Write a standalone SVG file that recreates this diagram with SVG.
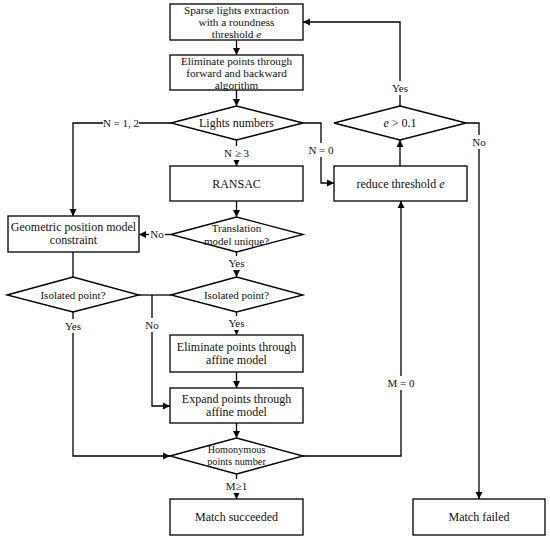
<svg xmlns="http://www.w3.org/2000/svg" width="550" height="540" viewBox="0 0 550 540">
<defs>
<marker id="ah" markerWidth="8" markerHeight="8" refX="7" refY="4" orient="auto" markerUnits="userSpaceOnUse"><path d="M0,0.5 L7,4 L0,7.5 Z" fill="#000"/></marker>
<style>
.b{fill:#fff;stroke:#000;stroke-width:1.3}
.t{font-family:"Liberation Serif","Times New Roman",serif;font-size:12px;fill:#111;text-anchor:middle}
.m{font-family:"Liberation Serif","Times New Roman",serif;font-size:11.2px;fill:#111;text-anchor:middle}
.d{font-family:"Liberation Serif","Times New Roman",serif;font-size:11px;fill:#111;text-anchor:middle}
.s{font-family:"Liberation Serif","Times New Roman",serif;font-size:10.2px;fill:#111;text-anchor:middle}
.l{font-family:"Liberation Serif","Times New Roman",serif;font-size:11px;fill:#111;text-anchor:middle}
.c{fill:none;stroke:#000;stroke-width:1.3}
.w{fill:#fff}
</style>
</defs>
<rect width="550" height="540" fill="#fff"/>
<g id="connectors">
<path class="c" d="M236.5,40 V55" marker-end="url(#ah)"/>
<path class="c" d="M236.5,90 V106" marker-end="url(#ah)"/>
<path class="c" d="M236.5,140 V166" marker-end="url(#ah)"/>
<path class="c" d="M171,123 H73 V216" marker-end="url(#ah)"/>
<path class="c" d="M303,123 H321 V183 H334" marker-end="url(#ah)"/>
<path class="c" d="M236.5,201 V217" marker-end="url(#ah)"/>
<path class="c" d="M171,234.5 H139" marker-end="url(#ah)"/>
<path class="c" d="M73,252 V277"/>
<path class="c" d="M236.5,252 V277" marker-end="url(#ah)"/>
<path class="c" d="M139,295 H171"/>
<path class="c" d="M152,295 V406 H170" marker-end="url(#ah)"/>
<path class="c" d="M73,312 V456 H170" marker-end="url(#ah)"/>
<path class="c" d="M236.5,312 V335" marker-end="url(#ah)"/>
<path class="c" d="M236.5,372 V388" marker-end="url(#ah)"/>
<path class="c" d="M236.5,423 V438" marker-end="url(#ah)"/>
<path class="c" d="M236.5,474 V499" marker-end="url(#ah)"/>
<path class="c" d="M303,456 H401 V201" marker-end="url(#ah)"/>
<path class="c" d="M400,166 V140" marker-end="url(#ah)"/>
<path class="c" d="M400,106 V22 H303" marker-end="url(#ah)"/>
<path class="c" d="M466,123 H479 V499" marker-end="url(#ah)"/>
<rect class="w" x="103" y="116" width="36" height="14"/><text class="l" x="121" y="127">N = 1, 2</text>
<rect class="w" x="222" y="146" width="29" height="14"/><text class="l" x="236.5" y="157">N ≥ 3</text>
<rect class="w" x="307" y="143" width="28" height="14"/><text class="l" x="321" y="154">N = 0</text>
<rect class="w" x="390" y="81" width="20" height="14"/><text class="l" x="400" y="92">Yes</text>
<rect class="w" x="471" y="135" width="16" height="14"/><text class="l" x="479" y="146">No</text>
<rect class="w" x="149" y="228" width="16" height="13"/><text class="l" x="157" y="238">No</text>
<rect class="w" x="226" y="256" width="21" height="14"/><text class="l" x="236.5" y="267">Yes</text>
<rect class="w" x="226" y="316" width="21" height="14"/><text class="l" x="236.5" y="327">Yes</text>
<rect class="w" x="63" y="319" width="21" height="14"/><text class="l" x="73" y="330">Yes</text>
<rect class="w" x="144" y="318" width="16" height="14"/><text class="l" x="152" y="329">No</text>
<rect class="w" x="386" y="376" width="30" height="14"/><text class="l" x="401" y="387">M = 0</text>
<rect class="w" x="223" y="479" width="27" height="14"/><text class="l" x="236.5" y="490">M≥1</text>
</g>
<g id="n1"><rect class="b" x="170" y="4" width="133" height="36"/><text class="m" x="236.5" y="13.8">Sparse lights extraction</text><text class="m" x="236.5" y="26">with a roundness</text><text class="m" x="236.5" y="38.2">threshold <tspan font-style="italic">e</tspan></text></g>
<g id="n2"><rect class="b" x="170" y="55" width="133" height="35"/><text class="m" x="236.5" y="64.5">Eliminate points through</text><text class="m" x="236.5" y="76.7">forward and backward</text><text class="m" x="236.5" y="88.5">algorithm</text></g>
<g id="n3"><polygon class="b" points="171,123 236.5,106 303,123 236.5,140"/><text class="t" x="236.5" y="127">Lights numbers</text></g>
<g id="n4"><rect class="b" x="170" y="166" width="133" height="35"/><text class="t" x="236.5" y="188">RANSAC</text></g>
<g id="n5"><polygon class="b" points="334,123 400,106 466,123 400,140"/><text class="t" x="400" y="127"><tspan font-style="italic">e</tspan> &gt; 0.1</text></g>
<g id="n6"><rect class="b" x="334" y="166" width="133" height="35"/><text class="t" x="400.5" y="188">reduce threshold <tspan font-style="italic">e</tspan></text></g>
<g id="n7"><rect class="b" x="8" y="216" width="131" height="36"/><text class="t" x="73.5" y="231">Geometric position model</text><text class="t" x="73.5" y="244">constraint</text></g>
<g id="n8"><polygon class="b" points="171,234.5 236.5,217 303,234.5 236.5,252"/><text class="d" x="236.5" y="232">Translation</text><text class="d" x="236.5" y="245">model unique?</text></g>
<g id="n9"><polygon class="b" points="7,295 73,277 139,295 73,312"/><text class="d" x="73" y="299">Isolated point?</text></g>
<g id="n10"><polygon class="b" points="171,295 236.5,277 303,295 236.5,312"/><text class="d" x="236.5" y="299">Isolated point?</text></g>
<g id="n11"><rect class="b" x="170" y="335" width="133" height="37"/><text class="t" x="236.5" y="351">Eliminate points through</text><text class="t" x="236.5" y="364">affine model</text></g>
<g id="n12"><rect class="b" x="170" y="388" width="133" height="35"/><text class="t" x="236.5" y="403">Expand points through</text><text class="t" x="236.5" y="416">affine model</text></g>
<g id="n13"><polygon class="b" points="170,456 236.5,438 303,456 236.5,474"/><text class="s" x="236.5" y="453">Homonymous</text><text class="s" x="236.5" y="465">points number</text></g>
<g id="n14"><rect class="b" x="170" y="499" width="133" height="36"/><text class="t" x="236.5" y="521">Match succeeded</text></g>
<g id="n15"><rect class="b" x="413" y="499" width="132" height="36"/><text class="t" x="479" y="521">Match failed</text></g>
</svg>
